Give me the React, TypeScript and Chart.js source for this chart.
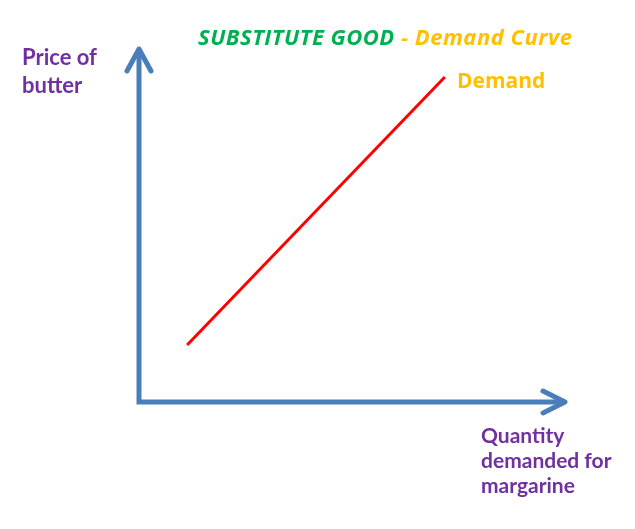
import React, { useEffect, useRef } from "react";
import { Chart, registerables } from "chart.js";

Chart.register(...registerables);

const demandQuantity: number[] = [1.13, 7.18];
const demandPrice: number[] = [1.61, 9.18];
const titleParts: string[] = ["SUBSTITUTE GOOD", " - Demand Curve"];
const yLabelLines: string[] = ["Price of", "butter"];
const xLabelLines: string[] = ["Quantity", "demanded for", "margarine"];
const curveLabel = "Demand";

const FONT = "Lato, 'Open Sans', 'DejaVu Sans', sans-serif";
const WIDE_FONT = "'Open Sans', Lato, 'DejaVu Sans', sans-serif";
const AXIS = "#4A7EBB";
const PURPLE = "#7030A0";
const ORANGE = "#FFC000";
const GREEN = "#00B050";

const decorPlugin = {
  id: "decor",
  afterDraw(chart: any) {
    const { ctx, chartArea } = chart;
    const { left, right, top, bottom } = chartArea;
    ctx.save();
    // axes
    ctx.strokeStyle = AXIS;
    ctx.lineWidth = 5;
    ctx.lineCap = "butt";
    ctx.lineJoin = "miter";
    ctx.beginPath();
    ctx.moveTo(left, top + 2);
    ctx.lineTo(left, bottom);
    ctx.lineTo(right - 2, bottom);
    ctx.stroke();
    // arrow heads
    ctx.lineCap = "round";
    ctx.lineJoin = "round";
    ctx.beginPath();
    ctx.moveTo(left - 12, top + 23);
    ctx.lineTo(left, top + 1);
    ctx.lineTo(left + 12, top + 23);
    ctx.stroke();
    ctx.beginPath();
    ctx.moveTo(right - 22, bottom - 11);
    ctx.lineTo(right, bottom);
    ctx.lineTo(right - 22, bottom + 11);
    ctx.stroke();

    ctx.textBaseline = "alphabetic";
    ctx.textAlign = "left";
    // title
    ctx.font = `italic bold 22px ${WIDE_FONT}`;
    ctx.letterSpacing = "0.5px";
    let x = 198;
    ctx.fillStyle = GREEN;
    ctx.fillText(titleParts[0], x, 45);
    x += ctx.measureText(titleParts[0]).width;
    ctx.fillStyle = ORANGE;
    ctx.fillText(titleParts[1], x, 45);
    ctx.letterSpacing = "0px";

    ctx.fillStyle = PURPLE;
    ctx.font = `bold 22px ${FONT}`;
    yLabelLines.forEach((t, i) => ctx.fillText(t, 22, 65 + i * 28));
    ctx.font = `bold 21px ${FONT}`;
    xLabelLines.forEach((t, i) => ctx.fillText(t, 481, 443 + i * 25));
    ctx.fillStyle = ORANGE;
    ctx.font = `bold 21px ${WIDE_FONT}`;
    ctx.fillText(curveLabel, 457, 88);
    ctx.restore();
  },
};

export default function App() {
  const ref = useRef<HTMLCanvasElement | null>(null);
  useEffect(() => {
    document.body.style.margin = "0";
    const canvas = ref.current!;
    const chart = new Chart(canvas, {
      type: "scatter",
      data: {
        datasets: [
          {
            label: curveLabel,
            data: demandQuantity.map((q, i) => ({ x: q, y: demandPrice[i] })),
            showLine: true,
            borderColor: "#FF0000",
            borderWidth: 3,
            pointRadius: 0,
            fill: false,
          },
        ],
      },
      options: {
        animation: false,
        responsive: false,
        events: [],
        layout: { padding: { left: 139, top: 48, right: 70, bottom: 127 } },
        plugins: { legend: { display: false }, tooltip: { enabled: false }, title: { display: false } },
        scales: {
          x: { type: "linear", min: 0, max: 10, display: false },
          y: { type: "linear", min: 0, max: 10, display: false },
        },
      },
      plugins: [decorPlugin],
    });
    return () => chart.destroy();
  }, []);
  return (
    <div style={{ width: 635, height: 529, background: "#fff" }}>
      <canvas ref={ref} width={635} height={529} style={{ display: "block" }} />
    </div>
  );
}
